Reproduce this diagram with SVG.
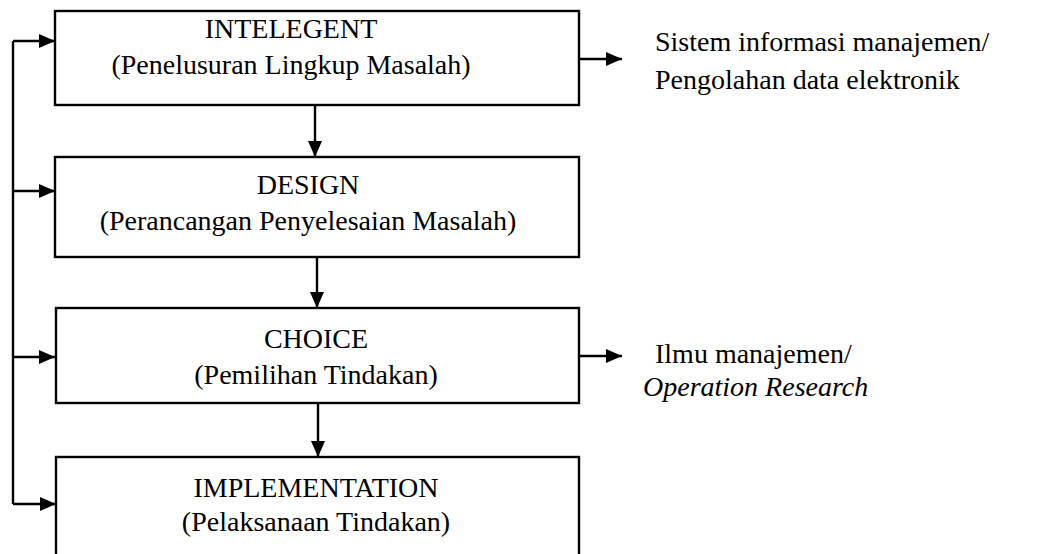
<svg xmlns="http://www.w3.org/2000/svg" width="1044" height="554" viewBox="0 0 1044 554">
<defs>
<marker id="ah" viewBox="0 0 16 14" refX="16" refY="7" markerWidth="16" markerHeight="14" markerUnits="userSpaceOnUse" orient="auto">
<path d="M0,0 L16,7 L0,14 Z" fill="#000"/>
</marker>
<style>
.box{fill:#fff;stroke:#000;stroke-width:2.4}
.t{font-family:"Liberation Serif","Times New Roman",serif;font-size:28px;fill:#000}
.c{text-anchor:middle}
.ln{fill:none;stroke:#000;stroke-width:2.4}
</style>
</defs>
<g id="connectors">
<path class="ln" d="M13,41 V504"/>
<path class="ln" d="M13,41 H55" marker-end="url(#ah)"/>
<path class="ln" d="M13,191 H55" marker-end="url(#ah)"/>
<path class="ln" d="M13,357 H55" marker-end="url(#ah)"/>
<path class="ln" d="M13,504 H56" marker-end="url(#ah)"/>
<path class="ln" d="M315,105 V157" marker-end="url(#ah)"/>
<path class="ln" d="M317,257 V308" marker-end="url(#ah)"/>
<path class="ln" d="M318,403 V457" marker-end="url(#ah)"/>
<path class="ln" d="M579,59 H622" marker-end="url(#ah)"/>
<path class="ln" d="M579,356 H622" marker-end="url(#ah)"/>
</g>
<g id="intelegent">
<rect class="box" x="55" y="11" width="524" height="94"/>
<text class="t c" x="291" y="38">INTELEGENT</text>
<text class="t c" x="291" y="74">(Penelusuran Lingkup Masalah)</text>
</g>
<g id="design">
<rect class="box" x="55" y="157" width="524" height="100"/>
<text class="t c" x="308" y="194">DESIGN</text>
<text class="t c" x="308" y="230">(Perancangan Penyelesaian Masalah)</text>
</g>
<g id="choice">
<rect class="box" x="56" y="308" width="523" height="95"/>
<text class="t c" x="316" y="348">CHOICE</text>
<text class="t c" x="316" y="384">(Pemilihan Tindakan)</text>
</g>
<g id="implementation">
<rect class="box" x="56" y="457" width="523" height="110"/>
<text class="t c" x="316" y="497">IMPLEMENTATION</text>
<text class="t c" x="316" y="531">(Pelaksanaan Tindakan)</text>
</g>
<g id="sim">
<text class="t" x="655" y="51">Sistem informasi manajemen/</text>
<text class="t" x="655" y="89">Pengolahan data elektronik</text>
</g>
<g id="ilmu">
<text class="t" x="655" y="363">Ilmu manajemen/</text>
<text class="t" x="643" y="396" font-style="italic">Operation Research</text>
</g>
</svg>
